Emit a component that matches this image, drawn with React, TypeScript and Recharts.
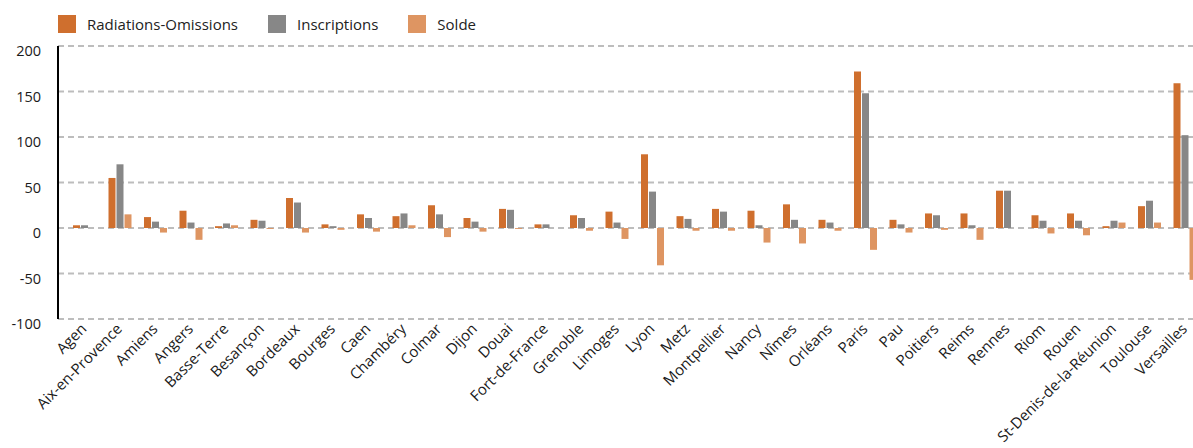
import { BarChart, Bar, XAxis, YAxis, CartesianGrid, Legend } from 'recharts';

const courts = [
  'Agen', 'Aix-en-Provence', 'Amiens', 'Angers', 'Basse-Terre', 'Besançon', 'Bordeaux', 'Bourges',
  'Caen', 'Chambéry', 'Colmar', 'Dijon', 'Douai', 'Fort-de-France', 'Grenoble', 'Limoges',
  'Lyon', 'Metz', 'Montpellier', 'Nancy', 'Nîmes', 'Orléans', 'Paris', 'Pau',
  'Poitiers', 'Reims', 'Rennes', 'Riom', 'Rouen', 'St-Denis-de-la-Réunion', 'Toulouse', 'Versailles',
];

const radiations = [
  3, 55, 12, 19, 2, 9, 33, 4, 15, 13, 25, 11, 21, 4, 14, 18,
  81, 13, 21, 19, 26, 9, 172, 9, 16, 16, 41, 14, 16, 2, 24, 159,
];

const inscriptions = [
  3, 70, 7, 6, 5, 8, 28, 2, 11, 16, 15, 7, 20, 4, 11, 6,
  40, 10, 18, 3, 9, 6, 148, 4, 14, 3, 41, 8, 8, 8, 30, 102,
];

const solde = [
  0, 15, -5, -13, 3, -1, -5, -2, -4, 3, -10, -4, -1, 0, -3, -12,
  -41, -3, -3, -16, -17, -3, -24, -5, -2, -13, 0, -6, -8, 6, 6, -57,
];

const yTicks = [-100, -50, 0, 50, 100, 150, 200];

const SERIES = [
  { key: 'radiations', name: 'Radiations-Omissions', color: '#cf6f2e' },
  { key: 'inscriptions', name: 'Inscriptions', color: '#878787' },
  { key: 'solde', name: 'Solde', color: '#de9562' },
];

const FONT = '"Open Sans", sans-serif';

const chartData = courts.map((court, i) => ({
  court,
  radiations: radiations[i],
  inscriptions: inscriptions[i],
  solde: solde[i],
}));

function CourtTick({ x, y, payload }: { x?: number; y?: number; payload?: { value: string } }) {
  return (
    <g transform={`translate(${x},${y})`}>
      <text
        transform="rotate(-45)"
        textAnchor="end"
        fontSize={15}
        fontFamily={FONT}
        fill="#1a1a1a"
        dy={4}
      >
        {payload?.value}
      </text>
    </g>
  );
}

function ValueTick({ x, y, payload }: { x?: number; y?: number; payload?: { value: number } }) {
  return (
    <text x={x} y={y} dy={10} textAnchor="end" fontSize={14.5} fontFamily={FONT} fill="#1a1a1a">
      {payload?.value}
    </text>
  );
}

function LegendRow() {
  return (
    <div style={{ display: 'flex', alignItems: 'center', fontFamily: FONT, fontSize: 15, color: '#222' }}>
      {SERIES.map((s) => (
        <div key={s.key} style={{ display: 'flex', alignItems: 'center', marginRight: 30 }}>
          <span style={{ width: 18, height: 18, background: s.color, marginRight: 11, display: 'inline-block' }} />
          <span>{s.name}</span>
        </div>
      ))}
    </div>
  );
}

export default function App() {
  return (
    <div style={{ position: 'absolute', left: 0, top: 0, width: 1193, height: 448, overflow: 'hidden', background: '#fff' }}>
      <BarChart
        width={1210}
        height={448}
        data={chartData}
        margin={{ top: 46, right: 7, bottom: 0, left: 0 }}
        barSize={7}
        barGap={1}
      >
        <CartesianGrid vertical={false} stroke="#bdbdbd" strokeWidth={2} strokeDasharray="6 4" />
        <XAxis
          dataKey="court"
          interval={0}
          height={129}
          axisLine={false}
          tickLine={false}
          padding={{ left: 9, right: 0 }}
          tick={<CourtTick />}
          tickMargin={2}
        />
        <YAxis
          width={58}
          domain={[-100, 200]}
          ticks={yTicks}
          interval={0}
          tickLine={false}
          tickSize={6}
          tickMargin={11}
          axisLine={{ stroke: '#000', strokeWidth: 2 }}
          tick={<ValueTick />}
        />
        <Legend
          layout="vertical"
          align="center"
          verticalAlign="middle"
          wrapperStyle={{ top: 14, left: 58, width: 600 }}
          content={<LegendRow />}
        />
        {SERIES.map((s) => (
          <Bar key={s.key} dataKey={s.key} name={s.name} fill={s.color} isAnimationActive={false} />
        ))}
      </BarChart>
    </div>
  );
}
